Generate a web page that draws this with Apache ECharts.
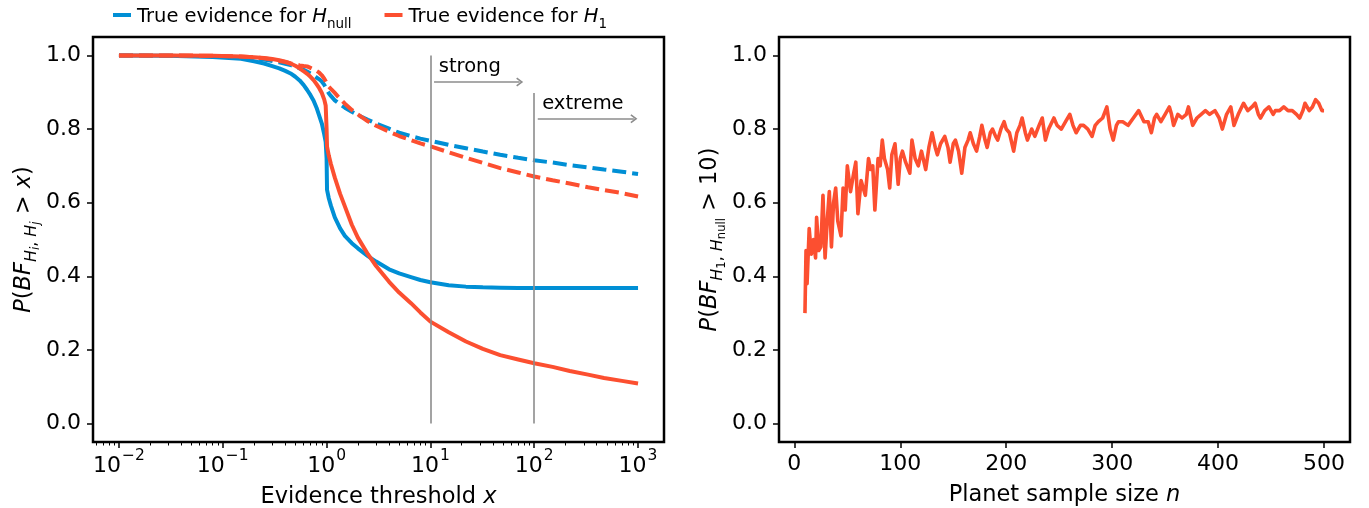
<!DOCTYPE html>
<html>
<head>
<meta charset="utf-8">
<script src="https://cdn.jsdelivr.net/npm/echarts@6/dist/echarts.min.js"></script>
<style>
  html, body { margin: 0; padding: 0; background: #fff; }
  #chart { width: 1369px; height: 508px; }
</style>
</head>
<body>
<div id="chart"></div>
<script>
// left panel: P(BF > x) against the evidence threshold x
const thresholds = [0.01, 0.03, 0.08, 0.15, 0.2, 0.25, 0.3, 0.35, 0.4, 0.45, 0.5, 0.55, 0.6, 0.65, 0.7, 0.75, 0.8,
  0.85, 0.9, 0.95, 0.98, 1.0, 1.01, 1.05, 1.1, 1.2, 1.35, 1.5, 1.75, 2.0, 2.5, 3.0, 4.0, 5.0, 6.5, 8.0, 10, 15, 22,
  32, 47, 70, 100, 150, 220, 330, 470, 700, 1000]
const nullSolid = [1.000, 0.999, 0.996, 0.991, 0.984, 0.978, 0.971, 0.965, 0.958, 0.951, 0.942, 0.932, 0.920, 0.906,
  0.892, 0.877, 0.858, 0.836, 0.815, 0.785, 0.765, 0.720, 0.635, 0.612, 0.592, 0.560, 0.530, 0.510, 0.490, 0.476,
  0.455, 0.440, 0.419, 0.408, 0.398, 0.390, 0.384, 0.376, 0.372, 0.370, 0.369, 0.368, 0.368, 0.368, 0.368, 0.368,
  0.368, 0.368, 0.368]
const nullDashed = [1.000, 0.999, 0.998, 0.995, 0.993, 0.989, 0.985, 0.981, 0.977, 0.974, 0.969, 0.965, 0.961, 0.956,
  0.951, 0.946, 0.940, 0.935, 0.929, 0.920, 0.913, 0.907, 0.904, 0.897, 0.890, 0.878, 0.867, 0.858, 0.847, 0.838,
  0.825, 0.815, 0.801, 0.790, 0.781, 0.774, 0.768, 0.757, 0.748, 0.739, 0.730, 0.722, 0.715, 0.709, 0.702, 0.696,
  0.690, 0.684, 0.678]
const h1Solid = [1.000, 1.000, 0.999, 0.997, 0.995, 0.993, 0.990, 0.987, 0.983, 0.978, 0.972, 0.965, 0.957, 0.950,
  0.942, 0.933, 0.922, 0.911, 0.898, 0.880, 0.864, 0.800, 0.752, 0.728, 0.705, 0.668, 0.624, 0.590, 0.540, 0.505,
  0.460, 0.428, 0.385, 0.356, 0.327, 0.302, 0.277, 0.248, 0.223, 0.203, 0.186, 0.174, 0.164, 0.154, 0.143, 0.133,
  0.124, 0.116, 0.109]
const h1Dashed = [1.000, 1.000, 0.999, 0.997, 0.995, 0.992, 0.989, 0.985, 0.982, 0.978, 0.976, 0.973, 0.971, 0.970,
  0.966, 0.962, 0.958, 0.953, 0.946, 0.937, 0.930, 0.925, 0.922, 0.915, 0.909, 0.898, 0.882, 0.869, 0.852, 0.840,
  0.821, 0.809, 0.793, 0.781, 0.770, 0.761, 0.753, 0.737, 0.722, 0.708, 0.694, 0.682, 0.671, 0.661, 0.652, 0.642,
  0.634, 0.626, 0.617]

const evidenceLevels = [10, 100]
const evidenceNames = ['strong', 'extreme']

// right panel: P(BF > 10) against the planet sample size n
const sampleSize = [10, 11, 12, 14, 16, 18, 20, 21, 23, 25, 27, 29, 31, 33, 35, 37, 39, 41, 44, 46, 48, 50, 53, 56, 58, 60,
  63, 65, 67, 70, 72, 74, 76, 79, 81, 83, 85, 88, 90, 92, 95, 98, 100, 102, 105, 109, 111, 114, 117, 120, 124, 127, 130,
  133, 135, 138, 142, 145, 147, 150, 152, 155, 158, 161, 164, 166, 169, 172, 175, 177, 180, 182, 185, 187, 190, 192, 195,
  198, 200, 203, 207, 210, 213, 215, 218, 220, 224, 227, 231, 234, 237, 240, 245, 248, 252, 256, 260, 263, 266, 270, 273,
  277, 281, 284, 287, 291, 295, 298, 301, 304, 306, 310, 315, 320, 325, 330, 334, 337, 340, 342, 346, 350, 354, 356, 358,
  362, 366, 370, 372, 376, 380, 384, 388, 392, 397, 401, 404, 408, 412, 415, 419, 424, 428, 432, 435, 438, 440, 444, 448,
  452, 454, 458, 462, 466, 470, 474, 477, 480, 482, 486, 489, 492, 495, 498, 500]
const probStrongH1 = [0.30, 0.47, 0.38, 0.53, 0.46, 0.50, 0.45, 0.56, 0.47, 0.48, 0.62, 0.45, 0.55, 0.63, 0.48, 0.60, 0.64,
  0.55, 0.51, 0.64, 0.58, 0.70, 0.63, 0.68, 0.71, 0.57, 0.66, 0.64, 0.62, 0.72, 0.69, 0.70, 0.58, 0.72, 0.70, 0.77, 0.72,
  0.69, 0.64, 0.73, 0.76, 0.65, 0.72, 0.74, 0.71, 0.68, 0.77, 0.72, 0.70, 0.74, 0.69, 0.75, 0.79, 0.75, 0.73, 0.76, 0.78,
  0.75, 0.71, 0.76, 0.77, 0.74, 0.68, 0.75, 0.77, 0.79, 0.76, 0.74, 0.78, 0.81, 0.77, 0.75, 0.79, 0.80, 0.78, 0.77, 0.80,
  0.82, 0.80, 0.79, 0.74, 0.79, 0.81, 0.83, 0.79, 0.77, 0.80, 0.78, 0.81, 0.83, 0.77, 0.80, 0.83, 0.81, 0.80, 0.82, 0.84,
  0.81, 0.79, 0.81, 0.81, 0.80, 0.78, 0.81, 0.82, 0.83, 0.86, 0.80, 0.77, 0.81, 0.82, 0.82, 0.81, 0.83, 0.85, 0.82, 0.82,
  0.79, 0.83, 0.84, 0.82, 0.84, 0.86, 0.84, 0.81, 0.84, 0.83, 0.84, 0.86, 0.81, 0.83, 0.84, 0.85, 0.84, 0.85, 0.83, 0.80,
  0.84, 0.86, 0.81, 0.84, 0.87, 0.85, 0.86, 0.87, 0.84, 0.83, 0.85, 0.86, 0.84, 0.85, 0.85, 0.86, 0.85, 0.85, 0.84, 0.83,
  0.85, 0.87, 0.85, 0.86, 0.88, 0.87, 0.85, 0.85]

const yTicks = [0, 0.2, 0.4, 0.6, 0.8, 1.0]
const logTicks = [-2, -1, 0, 1, 2, 3]
const nTicks = [0, 100, 200, 300, 400, 500]

const BLUE = '#008fd5'
const RED = '#fc4f30'
const GREY = '#8c8c8c'
const FONT = 'DejaVu Sans'

const minorLogTicks = []
for (let d = -3; d <= 3; d++) {
  for (let k = 2; k <= 9; k++) {
    const v = d + Math.log10(k)
    if (v > -2.25 && v < 3.25) minorLogTicks.push(v)
  }
}

const lg = (x) => Math.log10(x)
const pairs = (xs, ys) => xs.map((x, i) => [lg(x), ys[i]])

// rich styles for the mathtext-like labels
const mathRich = {
  it: { fontFamily: FONT, fontSize: 22.5, fontStyle: 'italic', color: '#000', lineHeight: 22, verticalAlign: 'top', padding: [4, 0, 0, 0] },
  n: { fontFamily: FONT, fontSize: 22.5, color: '#000', lineHeight: 22, verticalAlign: 'top', padding: [4, 0, 0, 0] },
  sit: { fontFamily: FONT, fontSize: 16, fontStyle: 'italic', color: '#000', lineHeight: 16, verticalAlign: 'top', padding: [15, 0, 0, 0] },
  s: { fontFamily: FONT, fontSize: 16, color: '#000', lineHeight: 16, verticalAlign: 'top', padding: [15, 0, 0, 0] },
  ssit: { fontFamily: FONT, fontSize: 11.5, fontStyle: 'italic', color: '#000', lineHeight: 12, verticalAlign: 'top', padding: [21, 0, 0, 0] },
  ss: { fontFamily: FONT, fontSize: 11.5, color: '#000', lineHeight: 12, verticalAlign: 'top', padding: [21, 0, 0, 0] }
}

const tickStyle = { show: true, length: 6, lineStyle: { color: '#000', width: 1.5 } }
const noLine = { show: false, onZero: false }

function yAxis(grid, name, gap) {
  return {
    type: 'value', gridIndex: grid, min: -0.05, max: 1.05, position: 'left',
    axisLine: noLine, splitLine: { show: false },
    axisTick: { ...tickStyle, customValues: yTicks },
    axisLabel: { customValues: yTicks, formatter: (v) => v.toFixed(1), margin: 12, color: '#000', fontSize: 22, fontFamily: FONT },
    name: name, nameLocation: 'middle', nameRotate: 90, nameGap: gap,
    nameTextStyle: { rich: mathRich }
  }
}

const chevron = 'path://M5,0 L10,8.3 L8.6,9.6 L5,3.6 L1.4,9.6 L0,8.3 Z'

const option = {
  animation: false,
  backgroundColor: '#fff',
  textStyle: { fontFamily: FONT },
  legend: {
    left: 108, top: 0, itemGap: 33, itemWidth: 18, itemHeight: 4, icon: 'rect',
    data: ['nullTrue', 'h1True'],
    formatter: (name) => name === 'nullTrue'
      ? '{t|True evidence for }{i|H}{s|null}'
      : '{t|True evidence for }{i|H}{s|1}',
    textStyle: {
      rich: {
        t: { fontFamily: FONT, fontSize: 19.5, color: '#000', lineHeight: 20, verticalAlign: 'top', padding: [2, 0, 0, 1] },
        i: { fontFamily: FONT, fontSize: 19.5, fontStyle: 'italic', color: '#000', lineHeight: 20, verticalAlign: 'top', padding: [2, 0, 0, 0] },
        s: { fontFamily: FONT, fontSize: 13.5, color: '#000', lineHeight: 14, verticalAlign: 'top', padding: [12, 0, 0, 0] }
      }
    }
  },
  grid: [
    { left: 93, top: 37, width: 571, height: 405, outerBoundsMode: 'none', containLabel: false, show: true, borderColor: '#000', borderWidth: 2.5 },
    { left: 779, top: 37, width: 571, height: 405, outerBoundsMode: 'none', containLabel: false, show: true, borderColor: '#000', borderWidth: 2.5 }
  ],
  xAxis: [
    {
      type: 'value', gridIndex: 0, min: -2.25, max: 3.25, position: 'bottom',
      axisLine: noLine, splitLine: { show: false },
      axisTick: { ...tickStyle, customValues: logTicks },
      axisLabel: {
        customValues: logTicks, margin: 6,
        formatter: (v) => '{b|10}{e|' + (v < 0 ? '\u2212' + (-v) : v) + '}',
        rich: {
          b: { fontFamily: FONT, fontSize: 22, color: '#000', lineHeight: 22, verticalAlign: 'top', padding: [7, 0, 0, 0] },
          e: { fontFamily: FONT, fontSize: 15.5, color: '#000', lineHeight: 16, verticalAlign: 'top', padding: [0, 0, 0, 1] }
        }
      },
      name: '{n|Evidence threshold }{it|x}', nameLocation: 'middle', nameGap: 33,
      nameTextStyle: { rich: mathRich }
    },
    {
      type: 'value', gridIndex: 0, min: -2.25, max: 3.25, position: 'bottom',
      axisLine: noLine, splitLine: { show: false }, axisLabel: { show: false },
      axisTick: { show: true, length: 3.5, customValues: minorLogTicks, lineStyle: { color: '#000', width: 1 } }
    },
    {
      type: 'value', gridIndex: 1, min: -14.5, max: 524.5, position: 'bottom',
      axisLine: noLine, splitLine: { show: false },
      axisTick: { ...tickStyle, customValues: nTicks },
      axisLabel: { customValues: nTicks, margin: 11, color: '#000', fontSize: 22, fontFamily: FONT },
      name: '{n|Planet sample size }{it|n}', nameLocation: 'middle', nameGap: 33,
      nameTextStyle: { rich: mathRich }
    }
  ],
  yAxis: [
    yAxis(0, '{it|P}{n|(}{it|BF}{sit|H}{ssit|i}{s|, }{sit|H}{ssit|j}{n| > }{it|x}{n|)}', 53),
    yAxis(1, '{it|P}{n|(}{it|BF}{sit|H}{ss|1}{s|, }{sit|H}{ss|null}{n| > 10)}', 59)
  ],
  series: [
    {
      type: 'line', name: 'nullTrue', xAxisIndex: 0, yAxisIndex: 0, data: pairs(thresholds, nullSolid),
      symbol: 'none', lineStyle: { color: BLUE, width: 4, join: 'round' }, itemStyle: { color: BLUE }
    },
    {
      type: 'line', name: 'nullTrueDashed', xAxisIndex: 0, yAxisIndex: 0, data: pairs(thresholds, nullDashed),
      symbol: 'none', lineStyle: { color: BLUE, width: 4, type: [14, 6] }, itemStyle: { color: BLUE }
    },
    {
      type: 'line', name: 'h1True', xAxisIndex: 0, yAxisIndex: 0, data: pairs(thresholds, h1Solid),
      symbol: 'none', lineStyle: { color: RED, width: 4, join: 'round' }, itemStyle: { color: RED }
    },
    {
      type: 'line', name: 'h1TrueDashed', xAxisIndex: 0, yAxisIndex: 0, data: pairs(thresholds, h1Dashed),
      symbol: 'none', lineStyle: { color: RED, width: 4, type: [14, 6] }, itemStyle: { color: RED },
      markLine: {
        silent: true, symbol: ['none', 'none'], label: { show: false },
        lineStyle: { color: GREY, width: 1.6, type: 'solid' },
        data: [
          [{ coord: [lg(evidenceLevels[0]), 0] }, { coord: [lg(evidenceLevels[0]), 1.0] }],
          [{ coord: [lg(evidenceLevels[1]), 0] }, { coord: [lg(evidenceLevels[1]), 0.898] }],
          [{ coord: [1.035, 0.928] }, { coord: [1.86, 0.928], symbol: chevron, symbolSize: [9, 7] }],
          [{ coord: [2.034, 0.828] }, { coord: [2.96, 0.828], symbol: chevron, symbolSize: [9, 7] }]
        ]
      },
      markPoint: {
        silent: true, symbol: 'circle', symbolSize: 1, itemStyle: { color: 'rgba(0,0,0,0)' },
        label: { show: true, position: 'right', distance: 0, color: '#000', fontSize: 19.5, fontFamily: FONT },
        data: [
          { coord: [1.076, 0.970], label: { formatter: evidenceNames[0] } },
          { coord: [2.072, 0.869], label: { formatter: evidenceNames[1] } }
        ]
      }
    },
    {
      type: 'line', name: 'sample', xAxisIndex: 2, yAxisIndex: 1,
      data: sampleSize.map((n, i) => [n, probStrongH1[i]]),
      symbol: 'none', lineStyle: { color: RED, width: 3.6, join: 'round' }, itemStyle: { color: RED }
    }
  ]
}

const chart = echarts.init(document.getElementById('chart'))
chart.setOption(option)
</script>
</body>
</html>
